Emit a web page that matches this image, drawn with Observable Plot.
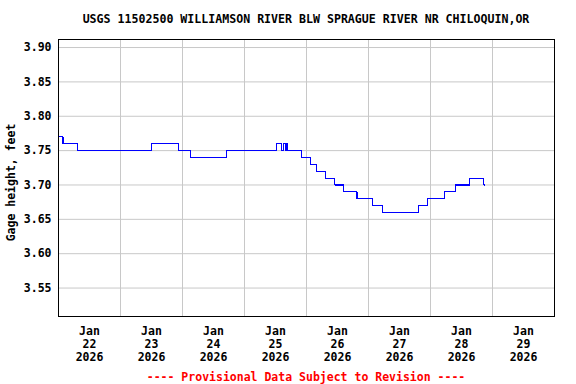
<!DOCTYPE html>
<html>
<head>
<meta charset="utf-8">
<script src="https://cdn.jsdelivr.net/npm/d3@7"></script>
<script src="https://cdn.jsdelivr.net/npm/@observablehq/plot@0.6"></script>
<style>
  html, body { margin: 0; padding: 0; background: white; }
  body { width: 576px; height: 384px; overflow: hidden; font-family: "DejaVu Sans Mono", "Liberation Mono", monospace; font-weight: bold; }
  #title { height: 32px; box-sizing: border-box; padding: 12px 22px 0 58px; line-height: 14px; font-size: 11.6px; text-align: center; color: black; white-space: nowrap; }
  #caption { box-sizing: border-box; padding: 4px 22px 0 58px; line-height: 14px; font-size: 11.5px; text-align: center; color: #ff0000; white-space: nowrap; }
  #chart svg { display: block; }
</style>
</head>
<body>
<div id="title">USGS 11502500 WILLIAMSON RIVER BLW SPRAGUE RIVER NR CHILOQUIN,OR</div>
<div id="chart"></div>
<div id="caption">---- Provisional Data Subject to Revision ----</div>
<script>
// Gage height readings (change points of the 15-minute series)
const times = [
  "2026-01-22T00:00","2026-01-22T01:45","2026-01-22T07:30","2026-01-23T11:54","2026-01-23T22:20",
  "2026-01-24T03:06","2026-01-24T16:55","2026-01-25T12:24","2026-01-25T14:26","2026-01-25T15:06",
  "2026-01-25T15:52","2026-01-25T16:15","2026-01-25T16:45","2026-01-25T22:12","2026-01-26T01:26",
  "2026-01-26T03:45","2026-01-26T07:14","2026-01-26T10:57","2026-01-26T14:26","2026-01-26T19:33",
  "2026-01-27T01:26","2026-01-27T05:32","2026-01-27T19:26","2026-01-27T22:43","2026-01-28T05:32",
  "2026-01-28T09:41","2026-01-28T15:13","2026-01-28T20:38","2026-01-28T21:00"
];
const gageHeight = [
  3.77,3.76,3.75,3.76,3.75,
  3.74,3.75,3.76,3.75,3.76,
  3.75,3.76,3.75,3.74,3.73,
  3.72,3.71,3.70,3.69,3.68,
  3.67,3.66,3.67,3.68,3.69,
  3.70,3.71,3.70,3.70
];
const yTicks = [3.55, 3.60, 3.65, 3.70, 3.75, 3.80, 3.85, 3.90];
const dayLabels = ["2026-01-22","2026-01-23","2026-01-24","2026-01-25","2026-01-26","2026-01-27","2026-01-28","2026-01-29"];
const dayGrid = ["2026-01-23","2026-01-24","2026-01-25","2026-01-26","2026-01-27","2026-01-28","2026-01-29"];
const xDomain = ["2026-01-22","2026-01-30"];
const yDomain = [3.5086, 3.9117];
const yLabel = "Gage height, feet";

const parseT = s => new Date(s + (s.length > 10 ? ":00Z" : "T00:00:00Z"));
const tDates = times.map(parseT);
const labelDates = dayLabels.map(s => new Date(s + "T12:00:00Z"));
const gridDates = dayGrid.map(parseT);

const chart = Plot.plot({
  width: 576,
  height: 334,
  marginTop: 7,
  marginRight: 22,
  marginBottom: 50,
  marginLeft: 58,
  style: {fontFamily: "'DejaVu Sans Mono', 'Liberation Mono', monospace", fontSize: "11.5px", fontWeight: "bold", background: "white", color: "black", overflow: "visible"},
  x: {type: "utc", domain: xDomain.map(parseT)},
  y: {domain: yDomain},
  marks: [
    Plot.gridY(yTicks, {stroke: "#c8c8c8", strokeOpacity: 1}),
    Plot.gridX(gridDates, {stroke: "#c8c8c8", strokeOpacity: 1}),
    Plot.line(gageHeight, {x: tDates, y: gageHeight, curve: "step-after", stroke: "#0000ff", strokeWidth: 1.1, shapeRendering: "crispEdges"}),
    Plot.frame({stroke: "black"}),
    Plot.axisY(yTicks, {tickSize: 0, tickPadding: 7, tickFormat: d => d.toFixed(2), label: null}),
    Plot.axisX(labelDates, {tickSize: 0, tickPadding: 10, tickFormat: d3.utcFormat("%b\n%d\n%Y"), label: null, lineHeight: 1.1}),
    Plot.text([yLabel], {text: d => d, frameAnchor: "left", textAnchor: "middle", rotate: -90, dx: -47, dy: 4.5})
  ]
});
document.getElementById("chart").appendChild(chart);
</script>
</body>
</html>
